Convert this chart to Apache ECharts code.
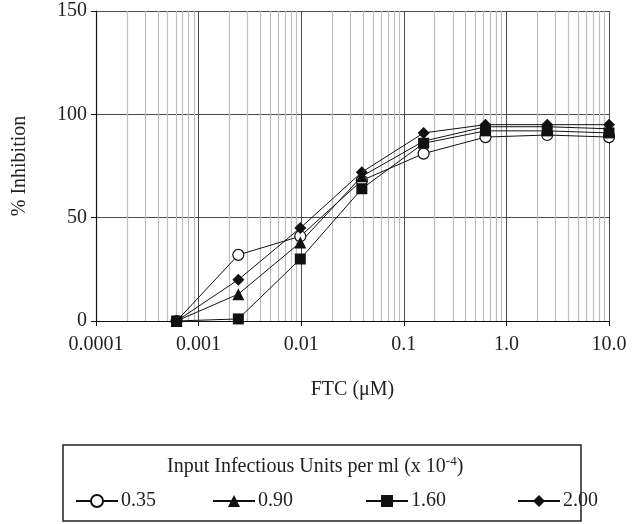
<!DOCTYPE html>
<html>
<head>
<meta charset="utf-8">
<script src="https://cdn.jsdelivr.net/npm/echarts@6/dist/echarts.min.js"></script>
<style>
html,body{margin:0;padding:0;background:#fff;}
#chart{width:636px;height:524px;}
</style>
</head>
<body>
<div id="chart"></div>
<script>
// ---- data ----
var concentrations = [0.00061, 0.00244, 0.0098, 0.039, 0.156, 0.625, 2.5, 10];
var seriesNames = ['0.35', '0.90', '1.60', '2.00'];
var inhib035 = [0, 32, 41, 68, 81, 89, 90, 89];
var inhib090 = [0, 13, 38, 70, 87, 94, 94, 93];
var inhib160 = [0, 1, 30, 64, 86, 92, 92, 91];
var inhib200 = [0, 20, 45, 72, 91, 95, 95, 95];
var xTickValues = [0.0001, 0.001, 0.01, 0.1, 1, 10];
var xTickLabels = ['0.0001', '0.001', '0.01', '0.1', '1.0', '10.0'];
var yTicks = [0, 50, 100, 150];

var FONT = 'Liberation Serif';
var TXT = '#222';

function pairs(vals) {
  return concentrations.map(function (c, i) { return [c, vals[i]]; });
}

// minor gridline positions (2..9 in each decade), drawn through the axes
var minorLines = [];
for (var d = 0; d < xTickValues.length - 1; d++) {
  for (var k = 2; k <= 9; k++) {
    var xv = +(xTickValues[d] * k).toPrecision(6);
    minorLines.push({ coords: [[xv, yTicks[0]], [xv, yTicks[yTicks.length - 1]]] });
  }
}

function labelFor(v) {
  for (var i = 0; i < xTickValues.length; i++) {
    if (Math.abs(Math.log10(xTickValues[i]) - Math.log10(v)) < 1e-6) return xTickLabels[i];
  }
  return '';
}

var chart = echarts.init(document.getElementById('chart'), null, { renderer: 'canvas' });

var baseSeries = {
  type: 'line',
  z: 5,
  lineStyle: { color: '#111', width: 1 },
  symbolSize: 11,
  showAllSymbol: true,
  animation: false
};

var series = [
  {
    type: 'lines', name: '_minor', coordinateSystem: 'cartesian2d', z: 1, silent: true,
    animation: false, polyline: false,
    lineStyle: { color: '#bdbdbd', width: 1.2, type: 'solid', opacity: 1 },
    data: minorLines
  },
  Object.assign({}, baseSeries, {
    name: seriesNames[0], data: pairs(inhib035), symbol: 'circle', symbolSize: 11,
    itemStyle: { color: '#fff', borderColor: '#111', borderWidth: 1.2 }
  }),
  Object.assign({}, baseSeries, {
    name: seriesNames[1], data: pairs(inhib090), symbol: 'triangle', symbolSize: 12,
    itemStyle: { color: '#111' }
  }),
  Object.assign({}, baseSeries, {
    name: seriesNames[3], data: pairs(inhib200), symbol: 'diamond', symbolSize: 12,
    itemStyle: { color: '#111' }
  }),
  Object.assign({}, baseSeries, {
    name: seriesNames[2], data: pairs(inhib160), symbol: 'rect', symbolSize: 11,
    itemStyle: { color: '#111' }
  })
];

var legendLefts = [75, 212, 365, 517];
var legends = seriesNames.map(function (n, i) {
  return {
    data: [n],
    left: legendLefts[i],
    top: 491,
    itemWidth: 42,
    itemHeight: 15,
    itemGap: 0,
    padding: 0,
    selectedMode: false,
    textStyle: { fontFamily: FONT, fontSize: 20, color: TXT, padding: [0, 0, 0, -2] }
  };
});

var option = {
  backgroundColor: '#fff',
  animation: false,
  textStyle: { fontFamily: FONT },
  grid: { left: 96, right: 27, top: 11, bottom: 203, containLabel: false },
  title: {
    text: 'Input Infectious Units per ml (x 10{sup|-4})',
    left: 167, top: 455, padding: 0,
    textStyle: {
      fontFamily: FONT, fontSize: 20, fontWeight: 'normal', color: TXT,
      rich: { sup: { fontFamily: FONT, fontSize: 13, color: TXT, verticalAlign: 'top', padding: [0, 0, 10, 0] } }
    }
  },
  legend: legends,
  xAxis: {
    type: 'log', logBase: 10, min: 0.0001, max: 10,
    name: 'FTC (\u03bcM)', nameLocation: 'middle', nameGap: 59,
    nameTextStyle: { fontFamily: FONT, fontSize: 20, color: TXT },
    axisLine: { show: true, lineStyle: { color: '#111', width: 1.2 } },
    axisTick: { show: true, inside: false, length: 5, lineStyle: { color: '#111' } },
    axisLabel: { fontFamily: FONT, fontSize: 20, color: TXT, margin: 14, formatter: labelFor },
    splitLine: { show: true, lineStyle: { color: '#4a4a4a', width: 1 } },
    minorTick: { show: false }, minorSplitLine: { show: false }
  },
  yAxis: {
    type: 'value', min: yTicks[0], max: yTicks[yTicks.length - 1], interval: 50,
    name: '% Inhibition', nameLocation: 'middle', nameGap: 66, nameRotate: 90,
    nameTextStyle: { fontFamily: FONT, fontSize: 20, color: TXT },
    axisLine: { show: true, lineStyle: { color: '#111', width: 1.2 } },
    axisTick: { show: true, inside: false, length: 5, lineStyle: { color: '#111' } },
    axisLabel: { fontFamily: FONT, fontSize: 20, color: TXT, margin: 9 },
    splitLine: { show: true, lineStyle: { color: '#4a4a4a', width: 1 } }
  },
  graphic: [{
    type: 'rect', silent: true, z: 0,
    shape: { x: 63, y: 445, width: 518, height: 76 },
    style: { fill: 'none', stroke: '#222', lineWidth: 1.5 }
  }],
  series: series
};

chart.setOption(option);
</script>
</body>
</html>
